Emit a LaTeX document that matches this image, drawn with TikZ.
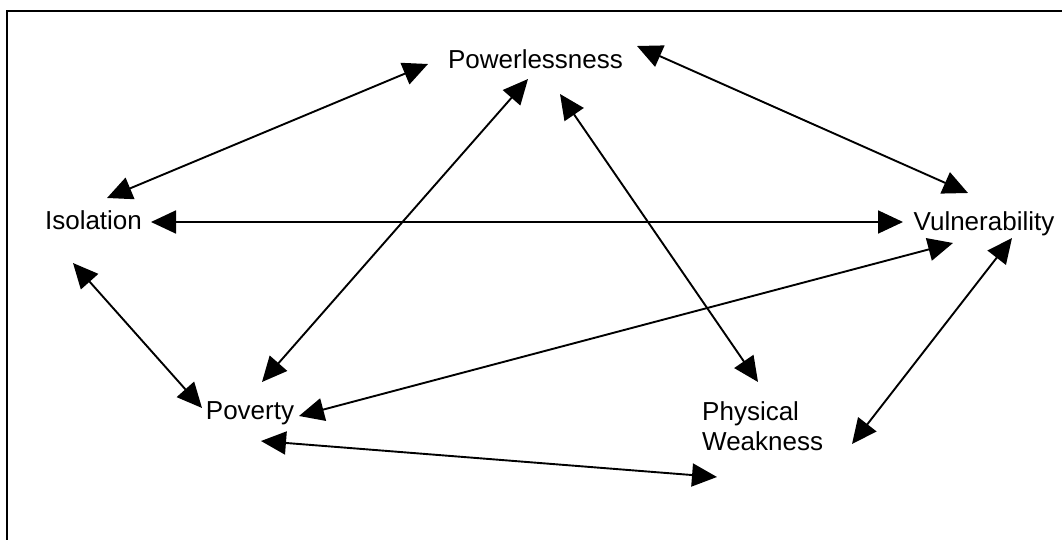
\documentclass[tikz,border=0pt]{standalone}
\usepackage{fontspec}
\setmainfont{Liberation Sans}
\usetikzlibrary{arrows.meta}

\tikzset{
  term/.style={inner sep=0pt, font=\fontsize{26}{30}\selectfont},
  link/.style={line width=1.9pt, {Triangle[length=25pt,width=23pt]}-{Triangle[length=25pt,width=23pt]}}
}

\begin{document}
\begin{tikzpicture}[x=1pt,y=-1pt]
\useasboundingbox (0,0) rectangle (1062,540);

%Frame
\draw[line width=2.2pt] (7,540) -- (7,11) -- (1062,11);

% Text Nodes
\node[term, anchor=base] (pow) at (535.5,69) {Powerlessness};
\node[term, anchor=base] (iso) at (93.5,229) {Isolation};
\node[term, anchor=base] (vul) at (984,230) {Vulnerability};
\node[term, anchor=base] (pov) at (250,419) {Poverty};
\node[term, anchor=north west, align=left] (phy) at (702,401) {Physical\\Weakness};

% Links
\draw[link] ([shift={(13.5,-31)}]iso.base) -- ([shift={(-107.5,-5)}]pow.base);
\draw[link] ([shift={(101.5,-23)}]pow.base) -- ([shift={(-16,-37)}]vul.base);
\draw[link] ([shift={(57.5,-7)}]iso.base) -- ([shift={(-81,-8)}]vul.base);
\draw[link] ([shift={(-7.5,10)}]pow.base) -- ([shift={(12,-37)}]pov.base);
\draw[link] ([shift={(24.5,25)}]pow.base) -- ([shift={(56,-19)}]phy.north west);
\draw[link] ([shift={(-20.5,34)}]iso.base) -- ([shift={(-48,-11)}]pov.base);
\draw[link] ([shift={(49,-3)}]pov.base) -- ([shift={(-31,13)}]vul.base);
\draw[link] ([shift={(11,22)}]pov.base) -- ([shift={(15,76)}]phy.north west);
\draw[link] ([shift={(28,8)}]vul.base) -- ([shift={(150,43)}]phy.north west);

\end{tikzpicture}
\end{document}
